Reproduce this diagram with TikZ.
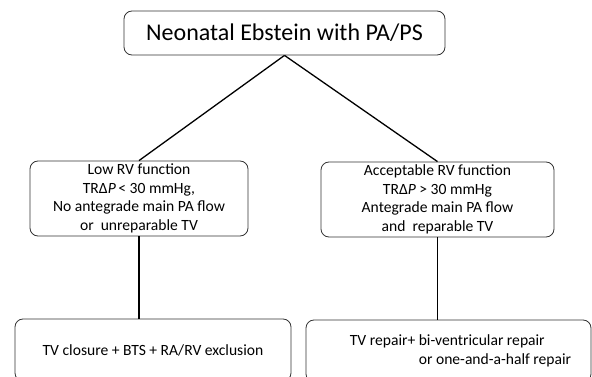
\documentclass[tikz,border=0pt]{standalone}
\usepackage{fontspec}
\setmainfont{Carlito}
\usetikzlibrary{calc}

\begin{document}
\begin{tikzpicture}[x=1pt,y=-1pt,
  box/.style={draw=black!80,line width=0.8pt,rounded corners=8pt,align=center,inner sep=2pt},
  link/.style={draw=black,line width=1.3pt}]
\def\fbig{\fontsize{24}{28}\selectfont}
\def\fsmall{\fontsize{15.6}{18.6}\selectfont}

\useasboundingbox (0,0) rectangle (592,377);
\clip (0,0) rectangle (592,377);

\node[box,minimum width=321pt,minimum height=44pt,font=\fbig] (dx) at (284.5,33) {Neonatal Ebstein with PA/PS};

\node[box,minimum width=218pt,minimum height=75pt,font=\fsmall] (low) at (139,198.5)
 {Low RV function\\ TRΔ\textit{P}\,< 30 mmHg,\\No antegrade main PA flow\\or\ \ unreparable TV};
\node[box,minimum width=233pt,minimum height=75pt,font=\fsmall] (ok) at (437.5,199.5)
 {Acceptable RV function\\ TRΔ\textit{P} > 30 mmHg\\Antegrade main PA flow\\and\ \ reparable TV};

\node[box,minimum width=276pt,minimum height=62pt,font=\fsmall] (palliate) at (153,350)
 {TV closure + BTS + RA/RV exclusion};
\node[box,minimum width=285pt,minimum height=62pt,font=\fsmall,align=left] (repair) at (448.5,351)
 {\hspace*{24pt}TV repair+ bi-ventricular repair\\\hspace*{93pt}or one-and-a-half repair};

\draw[link] (dx.south) -- (low.north);
\draw[link] (dx.south) -- (ok.north);
\draw[link] (low.south) -- (low.south |- palliate.north);
\draw[link] (ok.south) -- (ok.south |- repair.north);

\end{tikzpicture}
\end{document}
